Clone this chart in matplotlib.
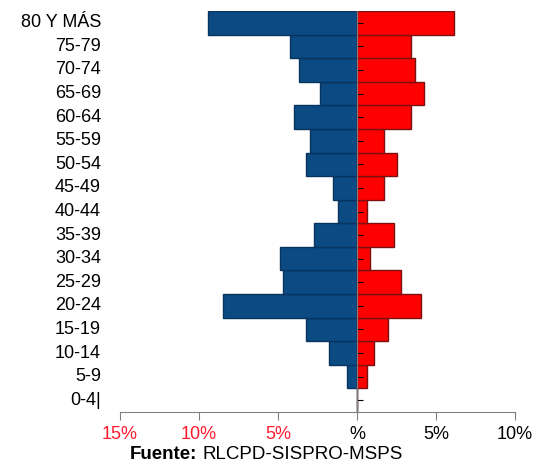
import numpy as np
import matplotlib
matplotlib.use("Agg")
import matplotlib.pyplot as plt
from matplotlib.transforms import blended_transform_factory

plt.rcParams["font.family"] = ["Liberation Sans", "DejaVu Sans"]

age_groups = ["0-4|", "5-9", "10-14", "15-19", "20-24", "25-29", "30-34", "35-39",
              "40-44", "45-49", "50-54", "55-59", "60-64", "65-69", "70-74",
              "75-79", "80 Y MÁS"]
hombres = [0.0, 0.66, 1.74, 3.2, 8.5, 4.7, 4.9, 2.75,
           1.23, 1.49, 3.2, 3.0, 4.0, 2.37, 3.64, 4.27, 9.4]
mujeres = [0.0, 0.65, 1.05, 1.97, 4.08, 2.8, 0.85, 2.37,
           0.65, 1.74, 2.56, 1.74, 3.43, 4.27, 3.64, 3.43, 6.17]
xticks = [-15, -10, -5, 0, 5, 10]
xtick_labels = ["15%", "10%", "5%", "%", "5%", "10%"]
xtick_colors = ["#ff1a2e", "#ff1a2e", "#ff1a2e", "black", "black", "black"]

fig = plt.figure(figsize=(5.34, 4.69), dpi=100)
ax = fig.add_axes([0.2247, 0.1215, 0.7397, 0.855])

y = np.arange(len(age_groups))
ax.barh(y, -np.array(hombres), height=1.0, color="#0b4a83", edgecolor="#08335c", linewidth=1.0)
ax.barh(y, mujeres, height=1.0, color="#ff0000", edgecolor="#7a1010", linewidth=1.0)

ax.set_xlim(-15, 10)
ax.set_ylim(-0.5, len(age_groups) - 0.5)

for side in ["top", "right"]:
    ax.spines[side].set_visible(False)
ax.spines["left"].set_position(("data", 0))
ax.spines["left"].set_color("#808080")
ax.spines["bottom"].set_color("#808080")
ax.set_yticks(y)
ax.tick_params(axis="y", direction="in", length=4, color="black", labelleft=False)
ax.set_xticks(xticks)
ax.set_xticklabels(xtick_labels, fontsize=13)
ax.tick_params(axis="x", direction="out", length=6, color="#808080", pad=4)
for lbl, c in zip(ax.get_xticklabels(), xtick_colors):
    lbl.set_color(c)

trans = blended_transform_factory(ax.transAxes, ax.transData)
for yi, name in zip(y, age_groups):
    ax.text(-0.048, yi, name, transform=trans, ha="right", va="center", fontsize=13)

src = fig.text(0.243, 0.03, "Fuente:", ha="left", va="center", fontsize=13.5, fontweight="bold")
ax.annotate("RLCPD-SISPRO-MSPS", xy=(1, 0.5), xycoords=src, xytext=(4, 0),
            textcoords="offset points", ha="left", va="center", fontsize=13.5)

fig.savefig("out.png", dpi=100)
